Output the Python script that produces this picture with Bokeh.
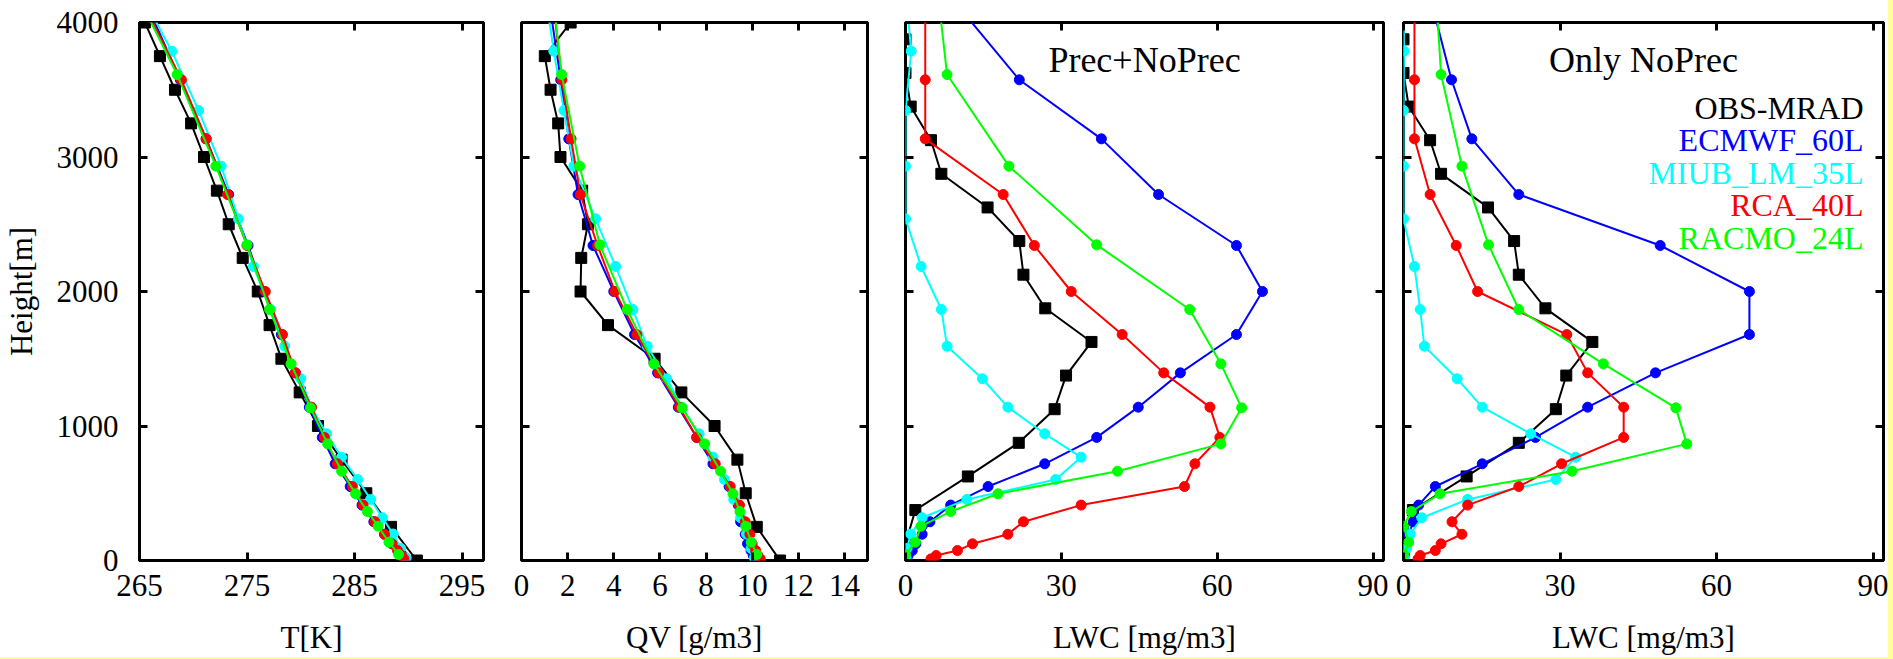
from bokeh.plotting import figure
from bokeh.models import Range1d, FixedTicker, LinearAxis, Label, CustomJSTickFormatter, Spacer
from bokeh.layouts import row, column
from bokeh.embed import file_html
from bokeh.resources import INLINE

# ---------------- data ----------------
series_names = ["OBS-MRAD", "ECMWF_60L", "MIUB_LM_35L", "RCA_40L", "RACMO_24L"]
series_colors = ["#000000", "#0000ff", "#00ffff", "#ff0000", "#00ff00"]

# observation heights [m]
obs_height = [0, 250, 500, 750, 1000, 1250, 1500, 1750, 2000, 2250, 2500, 2750, 3000, 3250, 3500, 3750, 4000]
obs_lwc_height = [0, 125, 375, 625, 875, 1125, 1375, 1625, 1875, 2125, 2375, 2625, 2875, 3125, 3375, 3625, 3875]

# model level heights [m]
ecmwf_height = [4040, 3574, 3135, 2721, 2342, 2000, 1680, 1395, 1140, 915, 719, 550, 412, 288, 195, 124, 74, 37, 12]
rca_height = [4040, 3574, 3135, 2721, 2342, 2000, 1680, 1395, 1140, 915, 719, 550, 412, 288, 195, 124, 74, 37, 12]
miub_height = [4250, 3787, 3346, 2932, 2540, 2186, 1866, 1593, 1351, 1140, 942, 768, 602, 454, 318, 197, 90, 20]
racmo_height = [4300, 3613, 2932, 2347, 1866, 1462, 1135, 867, 664, 496, 364, 255, 136, 45]

# temperature [K]
obs_T = [290.8, 288.4, 286.1, 283.8, 281.6, 279.9, 278.2, 277.1, 276.0, 274.6, 273.3, 272.2, 271.0, 269.8, 268.3, 266.9, 265.5]
ecmwf_T = [266.2, 268.8, 271.2, 273.3, 275.1, 276.6, 278.2, 279.5, 280.8, 282.0, 283.2, 284.6, 285.7, 286.8, 287.8, 288.5, 289.1, 289.5, 289.8]
miub_T = [264.9, 268.0, 270.5, 272.6, 274.2, 275.6, 277.2, 278.5, 280.0, 281.0, 282.4, 283.8, 285.3, 286.5, 287.6, 288.6, 289.3, 289.8]
rca_T = [266.0, 268.9, 271.2, 273.2, 275.0, 276.7, 278.3, 279.5, 281.0, 282.2, 283.4, 284.8, 285.8, 286.9, 287.8, 288.5, 289.0, 289.4, 289.6]
racmo_T = [264.2, 268.5, 272.1, 275.0, 277.1, 279.1, 280.9, 282.5, 283.8, 285.1, 286.2, 287.2, 288.2, 289.1]

# water vapour [g/m3]
obs_QV = [11.21, 10.20, 9.72, 9.36, 8.37, 6.93, 5.77, 3.75, 2.56, 2.59, 2.88, 2.63, 1.69, 1.59, 1.26, 1.01, 2.13]
ecmwf_QV = [1.3, 1.7, 2.05, 2.45, 3.1, 4.0, 4.9, 5.9, 6.8, 7.6, 8.3, 9.0, 9.4, 9.5, 9.7, 9.8, 9.95, 10.05, 10.1]
miub_QV = [1.0, 1.40, 1.84, 2.27, 3.21, 4.08, 4.83, 5.45, 6.3, 6.95, 7.7, 8.3, 8.8, 9.2, 9.5, 9.75, 9.95, 10.1]
rca_QV = [1.45, 1.75, 2.15, 2.55, 3.3, 4.05, 5.0, 5.95, 6.85, 7.6, 8.4, 9.05, 9.45, 9.7, 9.9, 10.0, 10.15, 10.25, 10.35]
racmo_QV = [1.3, 1.74, 2.52, 3.40, 4.58, 5.74, 6.97, 7.94, 8.63, 9.17, 9.47, 9.72, 9.96, 10.2]

# liquid water content [mg/m3], precipitating + non-precipitating
obs_LWC_all = [0.0, 0.0, 1.9, 12.0, 21.8, 28.7, 30.9, 35.8, 26.9, 22.7, 21.9, 15.8, 6.9, 4.9, 1.0, 0.0, 0.0]
ecmwf_LWC_all = [11.9, 21.9, 37.7, 48.7, 63.7, 68.7, 63.7, 52.9, 44.8, 36.8, 26.8, 15.9, 8.7, 4.7, 3.2, 2.0, 1.3, 0.5, 0.2]
miub_LWC_all = [0.0, 1.1, 0.0, 0.0, 0.0, 3.0, 6.9, 8.0, 14.8, 19.7, 26.8, 33.8, 28.9, 11.8, 3.2, 1.0, 0.3, 0.1]
rca_LWC_all = [3.8, 3.8, 3.8, 18.8, 24.8, 31.9, 41.7, 49.7, 58.6, 60.5, 55.7, 53.7, 33.8, 22.7, 19.7, 12.9, 10.0, 5.9, 4.9]
racmo_LWC_all = [6.0, 8.0, 19.9, 36.8, 54.7, 60.7, 64.7, 60.7, 40.8, 17.8, 8.7, 3.0, 1.9, 0.0]

# liquid water content [mg/m3], only non-precipitating
obs_LWC_noprec = [0.0, 0.0, 1.8, 12.1, 22.1, 29.2, 31.2, 36.2, 27.2, 22.1, 21.2, 16.2, 7.2, 5.1, 1.0, 0.0, 0.0]
ecmwf_LWC_noprec = [6.1, 9.2, 13.1, 22.1, 49.2, 66.3, 66.3, 48.3, 35.3, 25.3, 15.1, 6.1, 2.9, 1.9, 1.0, 0.6, 0.3, 0.2, 0.1]
miub_LWC_noprec = [0.0, 0.1, 0.0, 0.0, 0.0, 2.1, 3.2, 4.0, 10.3, 15.1, 24.4, 33.0, 29.2, 12.3, 3.5, 1.3, 0.6, 0.2]
rca_LWC_noprec = [2.1, 2.1, 2.1, 5.1, 10.1, 14.2, 31.3, 35.3, 42.2, 42.2, 30.3, 22.1, 12.3, 9.3, 11.2, 7.2, 6.1, 3.2, 2.8]
racmo_LWC_noprec = [6.1, 7.2, 11.2, 16.3, 22.1, 38.3, 52.2, 54.3, 32.3, 7.0, 1.5, 0.0, 1.0, 0.0]

height_ticks = [0, 1000, 2000, 3000, 4000]
T_ticks = [265, 275, 285, 295]
QV_ticks = [0, 2, 4, 6, 8, 10, 12, 14]
LWC_ticks = [0, 30, 60, 90]

panel_titles = ["Prec+NoPrec", "Only NoPrec"]

# ---------------- styling ----------------
FONT = "Liberation Serif"
FS = "31px"
FIG_H = 657


def style_axis(ax, ticks, labels=True):
    ax.ticker = FixedTicker(ticks=ticks)
    ax.axis_line_color = None
    ax.major_tick_in = 8
    ax.major_tick_out = 0
    ax.major_tick_line_width = 3
    ax.major_tick_line_color = "black"
    ax.minor_tick_line_color = None
    if labels:
        ax.major_label_text_font = FONT
        ax.major_label_text_font_size = FS
        ax.major_label_text_color = "black"
    else:
        ax.formatter = CustomJSTickFormatter(code="return ''")
        ax.major_label_text_font_size = "1px"
        ax.major_label_text_color = None
        ax.major_label_standoff = 0


def make_fig(width, left, right, xr, xticks, xlabel, ylabel):
    p = figure(width=width, height=FIG_H, x_range=Range1d(*xr), y_range=Range1d(0, 4000),
               output_backend="svg", toolbar_location=None,
               min_border_left=left, min_border_right=right,
               min_border_top=22, min_border_bottom=97)
    p.grid.visible = False
    p.outline_line_color = "black"
    p.outline_line_width = 3
    p.outline_line_alpha = 1.0
    p.background_fill_color = "white"
    p.border_fill_color = "white"

    xa = p.xaxis[0]
    style_axis(xa, xticks, True)
    xa.major_label_standoff = 14
    xa.axis_label = xlabel
    xa.axis_label_text_font = FONT
    xa.axis_label_text_font_size = FS
    xa.axis_label_text_font_style = "normal"
    xa.axis_label_text_color = "black"
    xa.axis_label_standoff = 21

    ya = p.yaxis[0]
    style_axis(ya, height_ticks, ylabel is not None)
    if ylabel is not None:
        ya.major_label_standoff = 21
        ya.axis_label = ylabel
        ya.axis_label_text_font = FONT
        ya.axis_label_text_font_size = FS
        ya.axis_label_text_font_style = "normal"
        ya.axis_label_text_color = "black"
        ya.axis_label_standoff = 15

    top = LinearAxis()
    style_axis(top, xticks, False)
    p.add_layout(top, "above")
    right_ax = LinearAxis()
    style_axis(right_ax, height_ticks, False)
    p.add_layout(right_ax, "right")
    return p


def draw(p, heights, values):
    for (h, v), c in zip(zip(heights, values), series_colors):
        p.line(v, h, line_color=c, line_width=2)
        if c == "#000000":
            p.scatter(v, h, marker="square", size=11, color=c)
        else:
            p.scatter(v, h, marker="circle", size=10, color=c)


all_heights = [obs_height, ecmwf_height, miub_height, rca_height, racmo_height]
lwc_heights = [obs_lwc_height, ecmwf_height, miub_height, rca_height, racmo_height]

f1 = make_fig(502, 138, 19, (265, 297), T_ticks, "T[K]", "Height[m]")
draw(f1, all_heights, [obs_T, ecmwf_T, miub_T, rca_T, racmo_T])

f2 = make_fig(384, 19, 19, (0, 15), QV_ticks, "QV [g/m3]", None)
draw(f2, all_heights, [obs_QV, ecmwf_QV, miub_QV, rca_QV, racmo_QV])

f3 = make_fig(507, 19, 10, (0, 92), LWC_ticks, "LWC [mg/m3]", None)
draw(f3, lwc_heights, [obs_LWC_all, ecmwf_LWC_all, miub_LWC_all, rca_LWC_all, racmo_LWC_all])
f3.add_layout(Label(x=239, y=501, x_units="screen", y_units="screen", text=panel_titles[0],
                    text_align="center", text_baseline="alphabetic",
                    text_font=FONT, text_font_size="36px", text_color="black"))

f4 = make_fig(495, 10, 5, (0, 92), LWC_ticks, "LWC [mg/m3]", None)
draw(f4, lwc_heights, [obs_LWC_noprec, ecmwf_LWC_noprec, miub_LWC_noprec, rca_LWC_noprec, racmo_LWC_noprec])
f4.add_layout(Label(x=240, y=501, x_units="screen", y_units="screen", text=panel_titles[1],
                    text_align="center", text_baseline="alphabetic",
                    text_font=FONT, text_font_size="36px", text_color="black"))
legend_y = [453, 421, 388, 356, 323]
for name, c, ly in zip(series_names, series_colors, legend_y):
    f4.add_layout(Label(x=460, y=ly, x_units="screen", y_units="screen", text=name,
                        text_align="right", text_baseline="alphabetic",
                        text_font=FONT, text_font_size="32px", text_color=c))

edge_right = Spacer(width=5, height=FIG_H, styles={"background-color": "#ffff99"})
edge_bottom = Spacer(width=1893, height=2, styles={"background-color": "#ffff99"})
lay = column(row(f1, f2, f3, f4, edge_right), edge_bottom)

open("out.html", "w").write(file_html(lay, INLINE))
